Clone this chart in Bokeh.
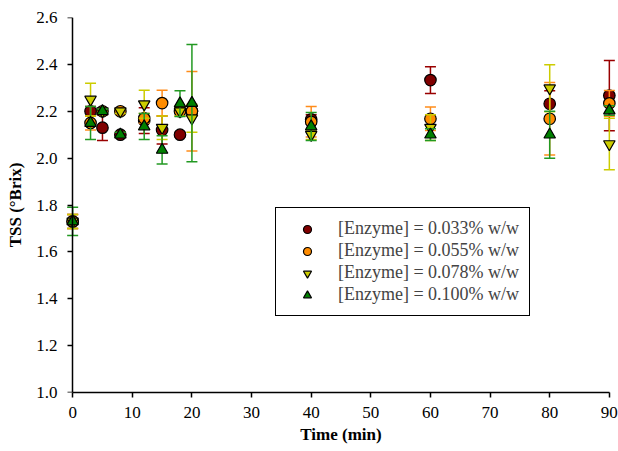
from bokeh.plotting import figure
from bokeh.models import Range1d, FixedTicker, NumeralTickFormatter, Legend, LegendItem, LinearAxis
from bokeh.embed import file_html
from bokeh.resources import INLINE

times = [0, 3, 5, 8, 12, 15, 18, 20, 40, 60, 80, 90]
labels = ["[Enzyme] = 0.033% w/w", "[Enzyme] = 0.055% w/w",
          "[Enzyme] = 0.078% w/w", "[Enzyme] = 0.100% w/w"]
tss_033 = [1.73, 2.20, 2.13, 2.10, 2.16, 2.12, 2.10, 2.20, 2.165, 2.333, 2.232, 2.267]
err_033 = [0.03, 0.02, 0.055, 0.01, 0.055, 0.06, 0.01, 0.02, 0.02, 0.057, 0.055, 0.15]
tss_055 = [1.73, 2.15, 2.20, 2.20, 2.17, 2.235, 2.20, 2.20, 2.155, 2.168, 2.168, 2.234]
err_055 = [0.03, 0.03, 0.01, 0.01, 0.02, 0.055, 0.02, 0.17, 0.065, 0.05, 0.155, 0.055]
tss_078 = [1.73, 2.25, 2.20, 2.20, 2.23, 2.13, 2.20, 2.17, 2.10, 2.13, 2.298, 2.06]
err_078 = [0.03, 0.07, 0.01, 0.01, 0.06, 0.05, 0.02, 0.06, 0.02, 0.055, 0.10, 0.11]
tss_100 = [1.73, 2.15, 2.20, 2.10, 2.135, 2.035, 2.233, 2.235, 2.135, 2.10, 2.10, 2.203]
err_100 = [0.06, 0.07, 0.01, 0.01, 0.055, 0.06, 0.055, 0.25, 0.06, 0.025, 0.10, 0.02]
y_ticks = [1.0, 1.2, 1.4, 1.6, 1.8, 2.0, 2.2, 2.4, 2.6]
x_ticks = [0, 10, 20, 30, 40, 50, 60, 70, 80, 90]

series = [
    (tss_033, err_033, "circle", "#800000", "#990000"),
    (tss_055, err_055, "circle", "#FF8C00", "#FF8C1A"),
    (tss_078, err_078, "inverted_triangle", "#CCCC00", "#CCCC00"),
    (tss_100, err_100, "triangle", "#008000", "#229922"),
]

p = figure(width=618, height=451, output_backend="svg", toolbar_location=None,
           x_range=Range1d(-1.2, 91.2), y_range=Range1d(1.0, 2.6),
           min_border_left=65, min_border_right=2, min_border_top=17, min_border_bottom=59)
p.background_fill_color = "white"
p.border_fill_color = "white"
p.outline_line_color = None
p.grid.visible = False

items = []
for (vals, errs, marker, fill, ecol), lab in zip(series, labels):
    up = [v + e for v, e in zip(vals, errs)]
    lo = [v - e for v, e in zip(vals, errs)]
    p.segment(x0=times, y0=lo, x1=times, y1=up, line_color=ecol, line_width=1.5)
    p.scatter(x=times + times, y=up + lo, marker="dash", size=11, line_color=ecol, line_width=1.5)
    r = p.scatter(x=times, y=vals, marker=marker, size=11.5, fill_color=fill,
                  line_color="black", line_width=1.2)
    items.append(LegendItem(label=lab, renderers=[r]))

font = "Liberation Serif"
for ax in (p.xaxis[0], p.yaxis[0]):
    ax.axis_line_color = "black"
    ax.axis_line_width = 1.5
    ax.major_tick_line_width = 1.5
    ax.major_tick_in = 0
    ax.major_tick_out = 5
    ax.minor_tick_line_color = None
    ax.major_label_text_font = font
    ax.major_label_text_font_size = "17px"
    ax.major_label_text_color = "black"
    ax.axis_label_text_font = font
    ax.axis_label_text_font_size = "17px"
    ax.axis_label_text_font_style = "bold"
    ax.axis_label_text_color = "black"

p.xaxis.ticker = FixedTicker(ticks=x_ticks)
p.xaxis.bounds = (0, 90)
p.xaxis.axis_label = "Time (min)"
p.xaxis.major_label_standoff = 9
p.xaxis.axis_label_standoff = 4

# label-only y axis in the left panel
yl = p.yaxis[0]
yl.ticker = FixedTicker(ticks=y_ticks)
yl.formatter = NumeralTickFormatter(format="0.0")
yl.axis_label = "TSS (°Brix)"
yl.axis_line_color = None
yl.major_tick_line_color = None
yl.major_tick_out = 0
yl.major_label_standoff = 8
yl.axis_label_standoff = 8

# line + ticks y axis sitting at x = 0
yline = LinearAxis(ticker=FixedTicker(ticks=y_ticks), fixed_location=0,
                   axis_line_color="black", axis_line_width=1.5,
                   major_tick_line_color="black", major_tick_line_width=1.5,
                   major_tick_in=0, major_tick_out=5, minor_tick_line_color=None,
                   major_label_text_color=None, major_label_text_font_size="1px")
p.add_layout(yline, "left")

legend = Legend(items=items, location=(210, 76), border_line_color="black",
                border_line_alpha=1.0, border_line_width=1.5, padding=10, spacing=1,
                glyph_width=42, glyph_height=20, label_height=20, label_standoff=10,
                label_text_font=font, label_text_font_size="18px",
                background_fill_color="white", margin=0)
p.add_layout(legend, "center")

open("out.html", "w").write(file_html(p, INLINE))
